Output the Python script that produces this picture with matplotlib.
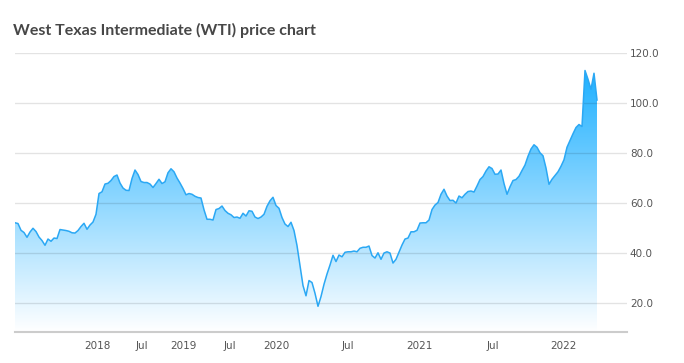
import numpy as np
import matplotlib
matplotlib.use("Agg")
import matplotlib.pyplot as plt
from matplotlib.colors import LinearSegmentedColormap

# WTI Preis (USD/Barrel), gleichmaessige Abstaende
wti_price = [
    52.1, 51.8, 49.1, 48.2, 46.3, 48.4, 49.9, 48.6, 46.4, 45.0,
    43.1, 45.6, 44.7, 46.0, 45.8, 49.4, 49.2, 49.0, 48.7, 48.1,
    48.0, 49.0, 50.6, 51.9, 49.5, 51.2, 52.4, 55.5, 63.8, 64.5,
    67.6, 67.9, 69.0, 70.6, 71.2, 68.0, 66.0, 65.1, 65.0, 69.8,
    73.2, 71.4, 68.6, 68.2, 68.2, 67.6, 66.2, 67.8, 69.5, 67.8,
    68.5, 72.1, 73.7, 72.5, 70.0, 68.0, 65.8, 63.3, 63.8, 63.5,
    62.7, 62.2, 62.0, 57.3, 53.5, 53.5, 53.2, 57.4, 57.8, 58.8,
    57.0, 55.9, 55.3, 54.2, 54.4, 53.9, 55.9, 54.8, 56.9, 56.7,
    54.4, 53.8, 54.4, 55.5, 58.7, 60.9, 62.3, 59.0, 57.9, 54.2,
    51.6, 50.6, 52.3, 49.0, 43.0, 35.0, 27.0, 22.9, 29.0, 28.2,
    23.9, 18.7, 22.6, 27.5, 31.6, 35.2, 39.1, 36.6, 39.2, 38.5,
    40.3, 40.5, 40.5, 40.8, 40.5, 41.9, 42.3, 42.3, 42.8, 39.0,
    38.0, 40.1, 37.5, 40.0, 40.5, 40.0, 36.0, 37.5, 40.3, 43.2,
    45.6, 46.0, 48.5, 48.5, 49.1, 52.0, 52.1, 52.1, 53.2, 57.4,
    59.2, 60.2, 63.5, 65.5, 62.8, 61.0, 61.1, 60.0, 62.8, 62.1,
    63.5, 64.6, 64.8, 64.4, 66.8, 69.4, 70.6, 72.8, 74.5, 73.8,
    71.5, 71.6, 73.2, 67.8, 63.5, 66.5, 69.0, 69.4, 70.7, 73.0,
    75.2, 78.7, 81.6, 83.3, 82.3, 80.1, 78.9, 74.0, 67.5, 69.5,
    71.0, 72.5, 74.7, 77.3, 82.3, 85.0, 87.7, 90.2, 91.4, 90.6,
    113.0, 109.5, 105.5, 111.9, 101.2,
]

tick_labels = ["2018", "Jul", "2019", "Jul", "2020", "Jul", "2021", "Jul", "2022"]
tick_pos = [27.6, 42.2, 56.3, 71.7, 87.0, 111.1, 134.7, 159.2, 182.8]
y_ticks = [20, 40, 60, 80, 100, 120]

x = np.arange(len(wti_price))
y = np.array(wti_price)
y_min, y_max = 8.3, 120

fig = plt.figure(figsize=(6.84, 3.63), dpi=100)
ax = fig.add_axes([15 / 684, 1 - 332.3 / 363, (627 - 15) / 684, (332.3 - 53) / 363])

# Gitterlinien (ueber der Fuellung, leicht transparent)
for v in y_ticks:
    ax.axhline(v, color=(0, 0, 0, 0.11), lw=1.0, zorder=2.5)

# Verlaufsfuellung
cmap = LinearSegmentedColormap.from_list("wti", ["#ffffff", "#1eb0ff"])
poly = ax.fill_between(x, y, y_min, facecolor="none", edgecolor="none")
grad = np.linspace(0, 1, 256).reshape(-1, 1)
im = ax.imshow(grad, extent=[x[0], x[-1], y_min, y.max()], origin="lower",
               aspect="auto", cmap=cmap, zorder=2)
im.set_clip_path(poly.get_paths()[0], transform=ax.transData)

ax.plot(x, y, color="#2ba8f4", lw=1.1, zorder=3)

ax.set_xlim(0, 204)
ax.set_ylim(y_min, y_max)

ax.set_xticks(tick_pos)
ax.set_xticklabels(tick_labels)
ax.set_yticks(y_ticks)
ax.set_yticklabels([f"{v:.1f}" for v in y_ticks])
ax.yaxis.tick_right()
ax.tick_params(axis="both", length=0, labelsize=7.5, labelcolor="#555555")
ax.tick_params(axis="x", pad=6)
ax.tick_params(axis="y", pad=2)

for s in ["top", "left", "right"]:
    ax.spines[s].set_visible(False)
ax.spines["bottom"].set_color("#cccccc")
ax.spines["bottom"].set_linewidth(1.5)

fig.text(13 / 684, 1 - 30 / 363, "West Texas Intermediate (WTI) price chart",
         fontsize=11.5, fontweight="bold", color="#474747", family="Lato",
         va="center", ha="left")

fig.savefig("out.png", dpi=100)
